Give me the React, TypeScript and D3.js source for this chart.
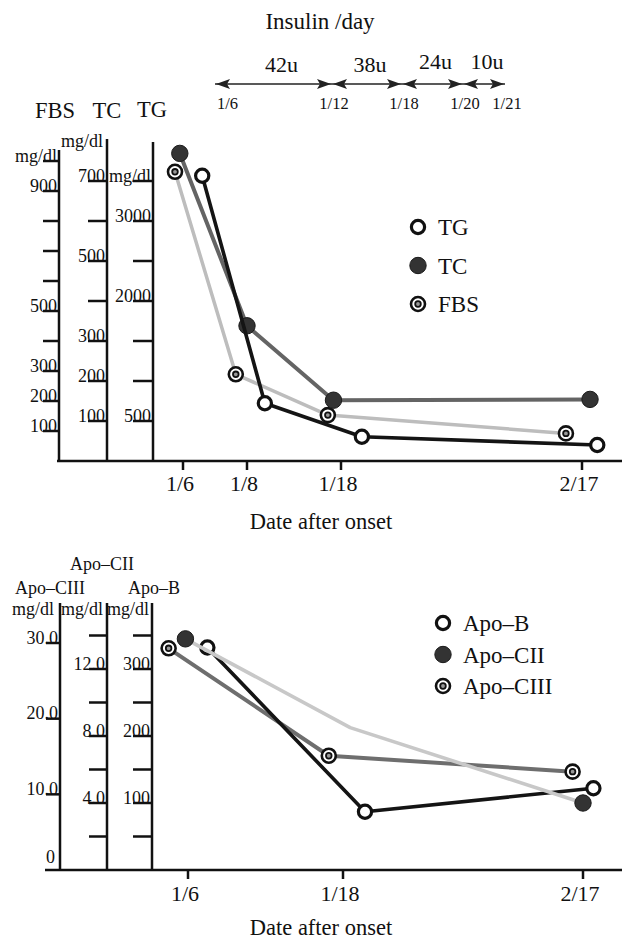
import React from 'react';
import * as d3 from 'd3';

const W = 622;
const H = 942;
const FONT = '"Liberation Serif", "Times New Roman", serif';

// Insulin per day (top strip)
const insulinDates = ['1/6', '1/12', '1/18', '1/20', '1/21'];
const insulinDays = [6, 12, 18, 20, 21];
const insulinDoses = ['42u', '38u', '24u', '10u'];

// Upper chart: x ticks (days after 1/6)
const topTickLabels = ['1/6', '1/8', '1/18', '2/17'];
const topTickDays = [0, 2, 12, 42];

const tgDays = [0.6, 3.9, 14.6, 43.9];
const tgValues = [3566, 721, 304, 200];
const tcDays = [-0.1, 2, 11.2, 43];
const tcValues = [769, 338, 152, 154];
const fbsDays = [-0.25, 1.65, 10.6, 40];
const fbsValues = [964, 289, 153, 92];

const fbsTicks = [100, 200, 300, 400, 500, 600, 700, 800, 900, 1000];
const fbsTickLabels = ['100', '200', '300', '', '500', '', '', '', '900', 'mg/dl'];
const tcTicks = [100, 200, 300, 400, 500, 600, 700];
const tcTickLabels = ['100', '200', '300', '', '500', '', '700'];
const tgTicks = [500, 1000, 1500, 2000, 2500, 3000, 3500];
const tgTickLabels = ['500', '', '', '2000', '', '3000', 'mg/dl'];

// Lower chart
const botTickLabels = ['1/6', '1/18', '2/17'];
const botTickDays = [0, 12, 42];

const apoBDays = [1.5, 14.75, 43.3];
const apoBValues = [332, 87, 122];
const apoCIIDays = [-0.2, 12.9, 42];
const apoCIIValues = [13.8, 8.5, 4.0];
const apoCIIMarked = [true, false, true];
const apoCIIIDays = [-1.5, 10.9, 40.7];
const apoCIIIValues = [29.3, 15.1, 13.0];

const ciiiTicks = [10, 20, 30];
const ciiiTickLabels = ['10.0', '20.0', '30.0'];
const ciiTicks = [2, 4, 6, 8, 10, 12, 14];
const ciiTickLabels = ['', '4.0', '', '8.0', '', '12.0', ''];
const bTicks = [50, 100, 150, 200, 250, 300, 350];
const bTickLabels = ['', '100', '', '200', '', '300', ''];

type Kind = 'open' | 'filled' | 'double';

const Marker = ({ kind, x, y }: { kind: Kind; x: number; y: number }) => {
  if (kind === 'open') {
    return <circle cx={x} cy={y} r={6.6} fill="#fff" stroke="#111" strokeWidth={3.2} />;
  }
  if (kind === 'filled') {
    return <circle cx={x} cy={y} r={8.2} fill="#333" stroke="#1a1a1a" strokeWidth={1} />;
  }
  return (
    <g>
      <circle cx={x} cy={y} r={7} fill="#fff" stroke="#111" strokeWidth={2.6} />
      <circle cx={x} cy={y} r={2.8} fill="#999" stroke="#111" strokeWidth={1.8} />
    </g>
  );
};

const VAxis = ({ x, top, bottom, scale, ticks, labels, tickLen, fontSize = 18 }: any) => (
  <g>
    <line x1={x} x2={x} y1={top} y2={bottom} stroke="#111" strokeWidth={2.5} />
    {ticks.map((t: number, i: number) => (
      <g key={t}>
        <line x1={x - tickLen} x2={x} y1={scale(t)} y2={scale(t)} stroke="#111" strokeWidth={2.5} />
        {labels[i] && (
          <text x={x - 2} y={scale(t) + 0.5} textAnchor="end" fontSize={fontSize} fontFamily={FONT} fill="#111">
            {labels[i]}
          </text>
        )}
      </g>
    ))}
  </g>
);

const Series = ({ days, values, xScale, yScale, color, width, kind, marked }: any) => {
  const pts = days.map((d: number, i: number) => [xScale(d), yScale(values[i])] as [number, number]);
  const line = d3.line();
  return (
    <g>
      <path d={line(pts) || ''} fill="none" stroke={color} strokeWidth={width} strokeLinejoin="round" />
      {pts.map((p: [number, number], i: number) =>
        !marked || marked[i] ? <Marker key={i} kind={kind} x={p[0]} y={p[1]} /> : null
      )}
    </g>
  );
};

const Legend = ({ x, y, gap, items }: { x: number; y: number; gap: number; items: [Kind, string][] }) => (
  <g>
    {items.map(([k, name], i) => (
      <g key={name}>
        <Marker kind={k} x={x} y={y + i * gap} />
        <text x={x + 20} y={y + i * gap + 8} fontSize={23} fontFamily={FONT} fill="#111">
          {name}
        </text>
      </g>
    ))}
  </g>
);

export default function App() {
  // insulin strip
  const insX = d3.scaleLinear().domain(insulinDays).range([215, 332, 402, 463, 505]);
  const arrowY = 84;

  // upper chart
  const topBase = 461;
  const topX = d3.scaleLinear().domain(topTickDays).range([183, 247, 341, 582]);
  const fbsY = d3.scaleLinear().domain([0, 1000]).range([topBase, 161]);
  const tcY = d3.scaleLinear().domain([0, 700]).range([topBase, 181]);
  const tgY = d3.scaleLinear().domain([0, 3500]).range([topBase, 181]);

  // lower chart
  const botBase = 870;
  const botX = d3.scaleLinear().domain(botTickDays).range([188, 343, 583]);
  const ciiiY = d3.scaleLinear().domain([0, 30]).range([botBase, 643]);
  const ciiY = d3.scaleLinear().domain([0, 12]).range([botBase, 669]);
  const bY = d3.scaleLinear().domain([0, 300]).range([botBase, 669]);

  const head = (tip: number, dir: number) =>
    `M${tip},${arrowY} L${tip - dir * 14},${arrowY - 5} L${tip - dir * 11},${arrowY} L${tip - dir * 14},${arrowY + 5} Z`;

  return (
    <div style={{ position: 'absolute', left: 0, top: 0 }}>
      <svg width={W} height={H} style={{ display: 'block', background: '#fff' }}>
        {/* Insulin /day */}
        <text x={320} y={29} textAnchor="middle" fontSize={23} fontFamily={FONT} fill="#111">
          Insulin /day
        </text>
        <line x1={insX(6)} x2={insX(21)} y1={arrowY} y2={arrowY} stroke="#222" strokeWidth={1.6} />
        {insulinDoses.map((dose, i) => {
          const x0 = insX(insulinDays[i]);
          const x1 = insX(insulinDays[i + 1]);
          return (
            <g key={dose}>
              <path d={head(x0 + 1, -1)} fill="#222" />
              <path d={head(x1 - 1, 1)} fill="#222" />
              <text x={(x0 + x1) / 2 + (i === 0 ? 8 : 3)} y={i < 2 ? 72 : 69} textAnchor="middle" fontSize={22} fontFamily={FONT} fill="#111">
                {dose}
              </text>
            </g>
          );
        })}
        {insulinDates.map((d, i) => (
          <text
            key={d}
            x={insX(insulinDays[i]) + 2}
            y={109}
            textAnchor={i === 0 ? 'start' : 'middle'}
            fontSize={16.5}
            fontFamily={FONT}
            fill="#111"
          >
            {d}
          </text>
        ))}

        {/* Upper chart headers */}
        <text x={55} y={118} textAnchor="middle" fontSize={22.5} fontFamily={FONT} fill="#111">FBS</text>
        <text x={107} y={118} textAnchor="middle" fontSize={22.5} fontFamily={FONT} fill="#111">TC</text>
        <text x={152} y={117} textAnchor="middle" fontSize={22.5} fontFamily={FONT} fill="#111">TG</text>
        <text x={103} y={147} textAnchor="end" fontSize={18} fontFamily={FONT} fill="#111">mg/dl</text>

        <VAxis x={59} top={150} bottom={topBase} scale={fbsY} ticks={fbsTicks} labels={fbsTickLabels} tickLen={16} />
        <VAxis x={107} top={139} bottom={topBase} scale={tcY} ticks={tcTicks} labels={tcTickLabels} tickLen={19} />
        <VAxis x={153} top={142} bottom={topBase} scale={tgY} ticks={tgTicks} labels={tgTickLabels} tickLen={20} />

        <line x1={57} x2={W} y1={topBase} y2={topBase} stroke="#111" strokeWidth={2.5} />
        {topTickDays.map((d, i) => (
          <g key={d}>
            <line x1={topX(d)} x2={topX(d)} y1={topBase} y2={topBase + 9} stroke="#111" strokeWidth={2.5} />
            <text x={topX(d) - 3} y={491} textAnchor="middle" fontSize={22} fontFamily={FONT} fill="#111">
              {topTickLabels[i]}
            </text>
          </g>
        ))}
        <text x={321} y={529} textAnchor="middle" fontSize={22.5} fontFamily={FONT} fill="#111">
          Date after onset
        </text>

        <Series days={fbsDays} values={fbsValues} xScale={topX} yScale={fbsY} color="#bdbdbd" width={3.5} kind="double" />
        <Series days={tcDays} values={tcValues} xScale={topX} yScale={tcY} color="#646464" width={4} kind="filled" />
        <Series days={tgDays} values={tgValues} xScale={topX} yScale={tgY} color="#141414" width={3.6} kind="open" />

        <Legend x={418} y={227} gap={38.5} items={[['open', 'TG'], ['filled', 'TC'], ['double', 'FBS']]} />

        {/* Lower chart headers */}
        <text x={102} y={570} textAnchor="middle" fontSize={18} fontFamily={FONT} fill="#111">Apo–CII</text>
        <text x={50} y={594} textAnchor="middle" fontSize={18} fontFamily={FONT} fill="#111">Apo–CIII</text>
        <text x={154} y={594} textAnchor="middle" fontSize={18} fontFamily={FONT} fill="#111">Apo–B</text>
        <text x={54} y={615} textAnchor="end" fontSize={18} fontFamily={FONT} fill="#111">mg/dl</text>
        <text x={103} y={615} textAnchor="end" fontSize={18} fontFamily={FONT} fill="#111">mg/dl</text>
        <text x={149} y={615} textAnchor="end" fontSize={18} fontFamily={FONT} fill="#111">mg/dl</text>

        <VAxis x={60} top={603} bottom={botBase} scale={ciiiY} ticks={ciiiTicks} labels={ciiiTickLabels} tickLen={14} />
        <VAxis x={107} top={603} bottom={botBase} scale={ciiY} ticks={ciiTicks} labels={ciiTickLabels} tickLen={18} />
        <VAxis x={152} top={603} bottom={botBase} scale={bY} ticks={bTicks} labels={bTickLabels} tickLen={19} />
        <text x={55} y={863} textAnchor="end" fontSize={18} fontFamily={FONT} fill="#111">0</text>

        <line x1={45} x2={W} y1={botBase} y2={botBase} stroke="#111" strokeWidth={2.5} />
        {botTickDays.map((d, i) => (
          <g key={d}>
            <line x1={botX(d)} x2={botX(d)} y1={botBase} y2={botBase + 9} stroke="#111" strokeWidth={2.5} />
            <text x={botX(d) - 3} y={901} textAnchor="middle" fontSize={22} fontFamily={FONT} fill="#111">
              {botTickLabels[i]}
            </text>
          </g>
        ))}
        <text x={321} y={935} textAnchor="middle" fontSize={22.5} fontFamily={FONT} fill="#111">
          Date after onset
        </text>

        <Series days={apoCIIIDays} values={apoCIIIValues} xScale={botX} yScale={ciiiY} color="#6e6e6e" width={4} kind="double" />
        <Series days={apoBDays} values={apoBValues} xScale={botX} yScale={bY} color="#141414" width={3.6} kind="open" />
        <Series days={apoCIIDays} values={apoCIIValues} xScale={botX} yScale={ciiY} color="#c8c8c8" width={3.6} kind="filled" marked={apoCIIMarked} />

        <Legend x={443} y={623} gap={31.5} items={[['open', 'Apo–B'], ['filled', 'Apo–CII'], ['double', 'Apo–CIII']]} />
      </svg>
    </div>
  );
}
